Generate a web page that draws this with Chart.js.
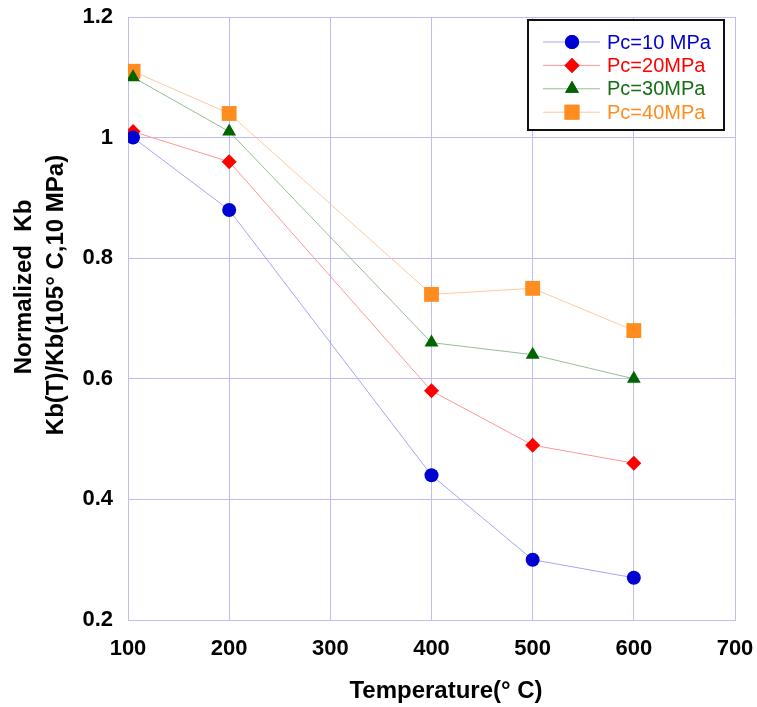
<!DOCTYPE html>
<html>
<head>
<meta charset="utf-8">
<script src="https://cdn.jsdelivr.net/npm/chart.js@4.4.0/dist/chart.umd.min.js"></script>
<style>
  html, body { margin: 0; padding: 0; background: #fff; }
  #wrap { width: 757px; height: 707px; }
</style>
</head>
<body>
<div id="wrap"><canvas id="kbChart" width="757" height="707"></canvas></div>
<script>
/* data */
var temperatures = [105, 200, 400, 500, 600];
var seriesNames = ['Pc=10 MPa', 'Pc=20MPa', 'Pc=30MPa', 'Pc=40MPa'];
var kb10 = [1.00, 0.88, 0.44, 0.30, 0.27];
var kb20 = [1.01, 0.96, 0.58, 0.49, 0.46];
var kb30 = [1.10, 1.01, 0.66, 0.64, 0.60];
var kb40 = [1.11, 1.04, 0.74, 0.75, 0.68];
var yTickLabels = ['0.2', '0.4', '0.6', '0.8', '1', '1.2'];
var xTickLabels = ['100', '200', '300', '400', '500', '600', '700'];
var yTitleLines = ['Normalized  Kb', 'Kb(T)/Kb(105° C,10 MPa)'];
var xTitle = 'Temperature(° C)';

var gridColor = 'rgb(190,190,245)';
var fontFamily = '"Liberation Sans", Arial, sans-serif';

function toPoints(values) {
    return values.map(function (v, i) { return {x: temperatures[i], y: v}; });
}

function makeSet(label, values, marker, line, shape, radius, text) {
    return {
        label: label,
        data: toPoints(values),
        borderColor: line,
        borderWidth: 1,
        backgroundColor: marker,
        pointBackgroundColor: marker,
        pointBorderColor: marker,
        pointBorderWidth: 0,
        pointStyle: shape,
        pointRadius: radius,
        textColor: text,
        tension: 0
    };
}

/* axis titles, placed by hand */
var axisTitles = {
    id: 'axisTitles',
    afterDraw: function (chart) {
        var ctx = chart.ctx;
        ctx.save();
        ctx.fillStyle = '#000';
        ctx.font = 'bold 24px ' + fontFamily;
        ctx.textAlign = 'center';
        ctx.textBaseline = 'middle';
        [[24, 287], [56, 295]].forEach(function (p, i) {
            ctx.save();
            ctx.translate(p[0], p[1]);
            ctx.rotate(-Math.PI / 2);
            ctx.fillText(yTitleLines[i], 0, 0);
            ctx.restore();
        });
        ctx.fillText(xTitle, 446, 691);
        ctx.restore();
    }
};

/* boxed legend in the top right corner of the plot */
var boxLegend = {
    id: 'boxLegend',
    afterDraw: function (chart) {
        var ctx = chart.ctx;
        var left = 528, top = 20, w = 196, h = 110;
        ctx.save();
        ctx.fillStyle = '#fff';
        ctx.fillRect(left, top, w, h);
        ctx.strokeStyle = '#111';
        ctx.lineWidth = 2;
        ctx.strokeRect(left, top, w, h);
        ctx.font = '20px ' + fontFamily;
        ctx.textBaseline = 'middle';
        chart.data.datasets.forEach(function (ds, i) {
            var y = 42 + i * 23.4;
            ctx.strokeStyle = ds.borderColor;
            ctx.lineWidth = 1;
            ctx.beginPath();
            ctx.moveTo(543, y);
            ctx.lineTo(600, y);
            ctx.stroke();
            ctx.fillStyle = ds.pointBackgroundColor;
            Chart.helpers.drawPoint(ctx, {
                pointStyle: ds.pointStyle,
                radius: ds.pointRadius,
                borderWidth: 0,
                rotation: 0
            }, 572, y);
            ctx.fill();
            ctx.fillStyle = ds.textColor;
            ctx.fillText(ds.label, 607, y + 1);
        });
        ctx.restore();
    }
};

var myChart = new Chart('kbChart', {
    type: 'line',
    data: {
        datasets: [
            makeSet(seriesNames[0], kb10, 'rgb(0,0,210)', 'rgb(165,165,250)', 'circle', 7, 'rgb(0,0,210)'),
            makeSet(seriesNames[1], kb20, 'rgb(255,0,0)', 'rgb(255,150,150)', 'rectRot', 7.5, 'rgb(255,0,0)'),
            makeSet(seriesNames[2], kb30, 'rgb(0,100,0)', 'rgb(150,190,150)', 'triangle', 8, 'rgb(20,110,20)'),
            makeSet(seriesNames[3], kb40, 'rgb(255,140,30)', 'rgb(255,200,160)', 'rect', 10.5, 'rgb(255,140,30)')
        ]
    },
    options: {
        responsive: false,
        animation: false,
        layout: { padding: { top: 17, right: 22, left: 0, bottom: 0 } },
        plugins: {
            legend: { display: false },
            tooltip: { enabled: false }
        },
        scales: {
            x: {
                type: 'linear',
                min: 100,
                max: 700,
                afterFit: function (s) {
                    s.height = 87;
                    s.paddingLeft = 0;
                    s.paddingRight = 0;
                },
                grid: { color: gridColor, lineWidth: 1, drawTicks: false },
                border: { color: gridColor },
                ticks: {
                    stepSize: 100,
                    padding: 16,
                    color: '#000',
                    font: { family: fontFamily, size: 22, weight: 'bold' },
                    callback: function (v) { return xTickLabels[Math.round((v - 100) / 100)]; }
                }
            },
            y: {
                min: 0.2,
                max: 1.2,
                afterFit: function (s) {
                    s.width = 128;
                    s.paddingTop = 0;
                    s.paddingBottom = 0;
                },
                grid: { color: gridColor, lineWidth: 1, drawTicks: false },
                border: { color: gridColor },
                ticks: {
                    stepSize: 0.2,
                    padding: 15,
                    color: '#000',
                    font: { family: fontFamily, size: 22, weight: 'bold' },
                    callback: function (v) { return yTickLabels[Math.round((v - 0.2) / 0.2)]; }
                }
            }
        }
    },
    plugins: [axisTitles, boxLegend]
});
</script>
</body>
</html>
